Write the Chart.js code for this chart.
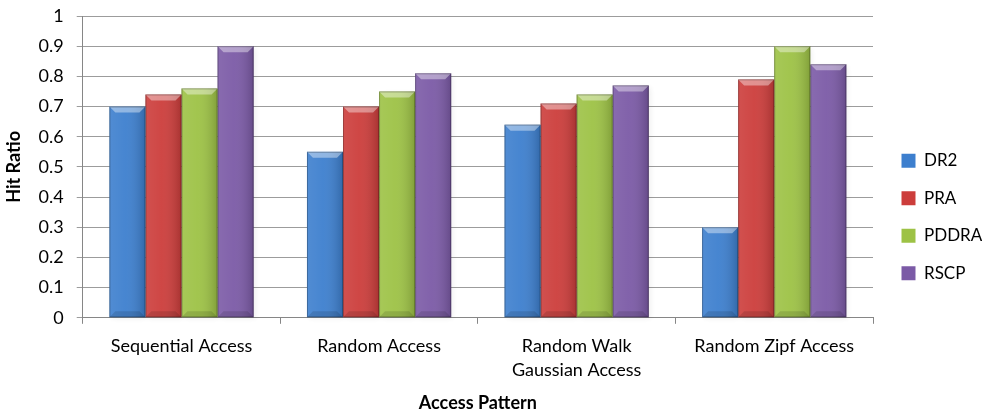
<!DOCTYPE html>
<html lang="en">

<head>
    <meta charset="UTF-8">
    <title>Hit Ratio by Access Pattern</title>
    <style>
        body {
            margin: 0;
            background: #fff;
        }

        #wrap {
            width: 982px;
            height: 415px;
        }
    </style>
    <script src="https://cdn.jsdelivr.net/npm/chart.js"></script>
</head>

<body>
    <div id="wrap"><canvas id="hit-chart"></canvas></div>

    <script>
        const categories = ['Sequential Access', 'Random Access', ['Random Walk', 'Gaussian Access'], 'Random Zipf Access'];
        const seriesNames = ['DR2', 'PRA', 'PDDRA', 'RSCP'];
        const dr2 = [0.70, 0.55, 0.64, 0.30];
        const pra = [0.74, 0.70, 0.71, 0.79];
        const pddra = [0.76, 0.75, 0.74, 0.90];
        const rscp = [0.90, 0.81, 0.77, 0.84];
        const seriesColors = ['#3d7fce', '#cc3d3b', '#9dc245', '#7b5aa6'];

        const fontFamily = 'Lato, "Open Sans", sans-serif';

        // legend sits a bit further right / lower than chart.js puts it
        const LEGEND_W = 109;
        const LEGEND_DX = 8;
        const LEGEND_DY = 8;

        const legendNudge = {
            id: 'legendNudge',
            beforeLayout(chart) {
                const lg = chart.legend;
                if (lg && !lg._nudged) {
                    const origFit = lg.fit;
                    lg.fit = function () {
                        origFit.call(this);
                        if (!this.isHorizontal()) this.width = LEGEND_W;
                    };
                    lg._nudged = true;
                }
            },
            afterLayout(chart) {
                const lg = chart.legend;
                if (!lg) return;
                lg.left += LEGEND_DX;
                lg.right += LEGEND_DX;
                lg.top += LEGEND_DY;
                lg.bottom += LEGEND_DY;
            }
        };

        // fake the office style bevel: shadow behind, shading + top/bottom bevel on top
        const bevelPlugin = {
            id: 'bevel',
            beforeDatasetsDraw(chart) {
                const ctx = chart.ctx;
                ctx.save();
                chart.data.datasets.forEach((ds, i) => {
                    chart.getDatasetMeta(i).data.forEach(bar => {
                        const x0 = bar.x - bar.width / 2;
                        ctx.shadowColor = 'rgba(0,0,0,0.35)';
                        ctx.shadowBlur = 5;
                        ctx.shadowOffsetX = 2;
                        ctx.shadowOffsetY = 2;
                        ctx.fillStyle = 'rgba(0,0,0,0.2)';
                        ctx.fillRect(x0, bar.y, bar.width, bar.base - bar.y);
                    });
                });
                ctx.restore();
            },
            afterDatasetsDraw(chart) {
                const ctx = chart.ctx;
                ctx.save();
                chart.data.datasets.forEach((ds, i) => {
                    chart.getDatasetMeta(i).data.forEach(bar => {
                        const x0 = bar.x - bar.width / 2;
                        const x1 = bar.x + bar.width / 2;
                        const y0 = bar.y;
                        const y1 = bar.base;
                        const g = ctx.createLinearGradient(x0, 0, x1, 0);
                        g.addColorStop(0, 'rgba(255,255,255,0.10)');
                        g.addColorStop(0.45, 'rgba(255,255,255,0.05)');
                        g.addColorStop(1, 'rgba(0,0,0,0.18)');
                        ctx.fillStyle = g;
                        ctx.fillRect(x0, y0, x1 - x0, y1 - y0);
                        const b = 6;
                        ctx.fillStyle = 'rgba(255,255,255,0.4)';
                        ctx.beginPath();
                        ctx.moveTo(x0, y0);
                        ctx.lineTo(x1, y0);
                        ctx.lineTo(x1 - b, y0 + b);
                        ctx.lineTo(x0 + b, y0 + b);
                        ctx.closePath();
                        ctx.fill();
                        ctx.fillStyle = 'rgba(0,0,0,0.12)';
                        ctx.beginPath();
                        ctx.moveTo(x0, y1);
                        ctx.lineTo(x1, y1);
                        ctx.lineTo(x1 - b, y1 - b);
                        ctx.lineTo(x0 + b, y1 - b);
                        ctx.closePath();
                        ctx.fill();
                        ctx.strokeStyle = 'rgba(0,0,0,0.25)';
                        ctx.lineWidth = 1;
                        ctx.strokeRect(x0 + 0.5, y0 + 0.5, x1 - x0 - 1, y1 - y0 - 1);
                    });
                });
                ctx.restore();
            }
        };

        const allSeries = [dr2, pra, pddra, rscp];

        new Chart(document.getElementById('hit-chart'), {
            type: 'bar',
            data: {
                labels: categories,
                datasets: allSeries.map((vals, i) => ({
                    label: seriesNames[i],
                    data: vals,
                    backgroundColor: seriesColors[i],
                    borderWidth: 0,
                    categoryPercentage: 0.73,
                    barPercentage: 1.0
                }))
            },
            options: {
                responsive: true,
                maintainAspectRatio: false,
                animation: false,
                layout: {
                    padding: { top: 3, left: 3, right: 0, bottom: 0 }
                },
                plugins: {
                    tooltip: { enabled: false },
                    legend: {
                        position: 'right',
                        labels: {
                            font: { family: fontFamily, size: 17 },
                            color: '#000',
                            boxWidth: 14,
                            boxHeight: 14,
                            padding: 20.5
                        }
                    }
                },
                scales: {
                    x: {
                        grid: {
                            display: true,
                            drawOnChartArea: false,
                            drawTicks: true,
                            tickLength: 6,
                            color: '#868686'
                        },
                        border: { color: '#868686', width: 1 },
                        ticks: {
                            font: { family: fontFamily, size: 18, lineHeight: 1.35 },
                            color: '#000',
                            padding: 10,
                            maxRotation: 0
                        },
                        title: {
                            display: true,
                            text: 'Access Pattern',
                            font: { family: fontFamily, size: 18, weight: 'bold' },
                            color: '#000',
                            padding: { top: 0, bottom: 1 }
                        }
                    },
                    y: {
                        min: 0,
                        max: 1,
                        // tick padding would otherwise push the plot top down
                        afterFit: scale => {
                            scale.paddingTop = 16;
                            scale.paddingBottom = 12;
                        },
                        ticks: {
                            stepSize: 0.1,
                            font: { family: fontFamily, size: 18 },
                            color: '#000',
                            padding: 13,
                            callback: v => Math.round(v * 10) / 10
                        },
                        grid: {
                            color: '#9c9c9c',
                            lineWidth: 1,
                            tickLength: 6
                        },
                        border: { color: '#868686', width: 1 },
                        title: {
                            display: true,
                            text: 'Hit Ratio',
                            font: { family: fontFamily, size: 18, weight: 'bold' },
                            color: '#000',
                            padding: { top: 0, bottom: 1 }
                        }
                    }
                }
            },
            plugins: [legendNudge, bevelPlugin]
        });
    </script>
</body>

</html>
